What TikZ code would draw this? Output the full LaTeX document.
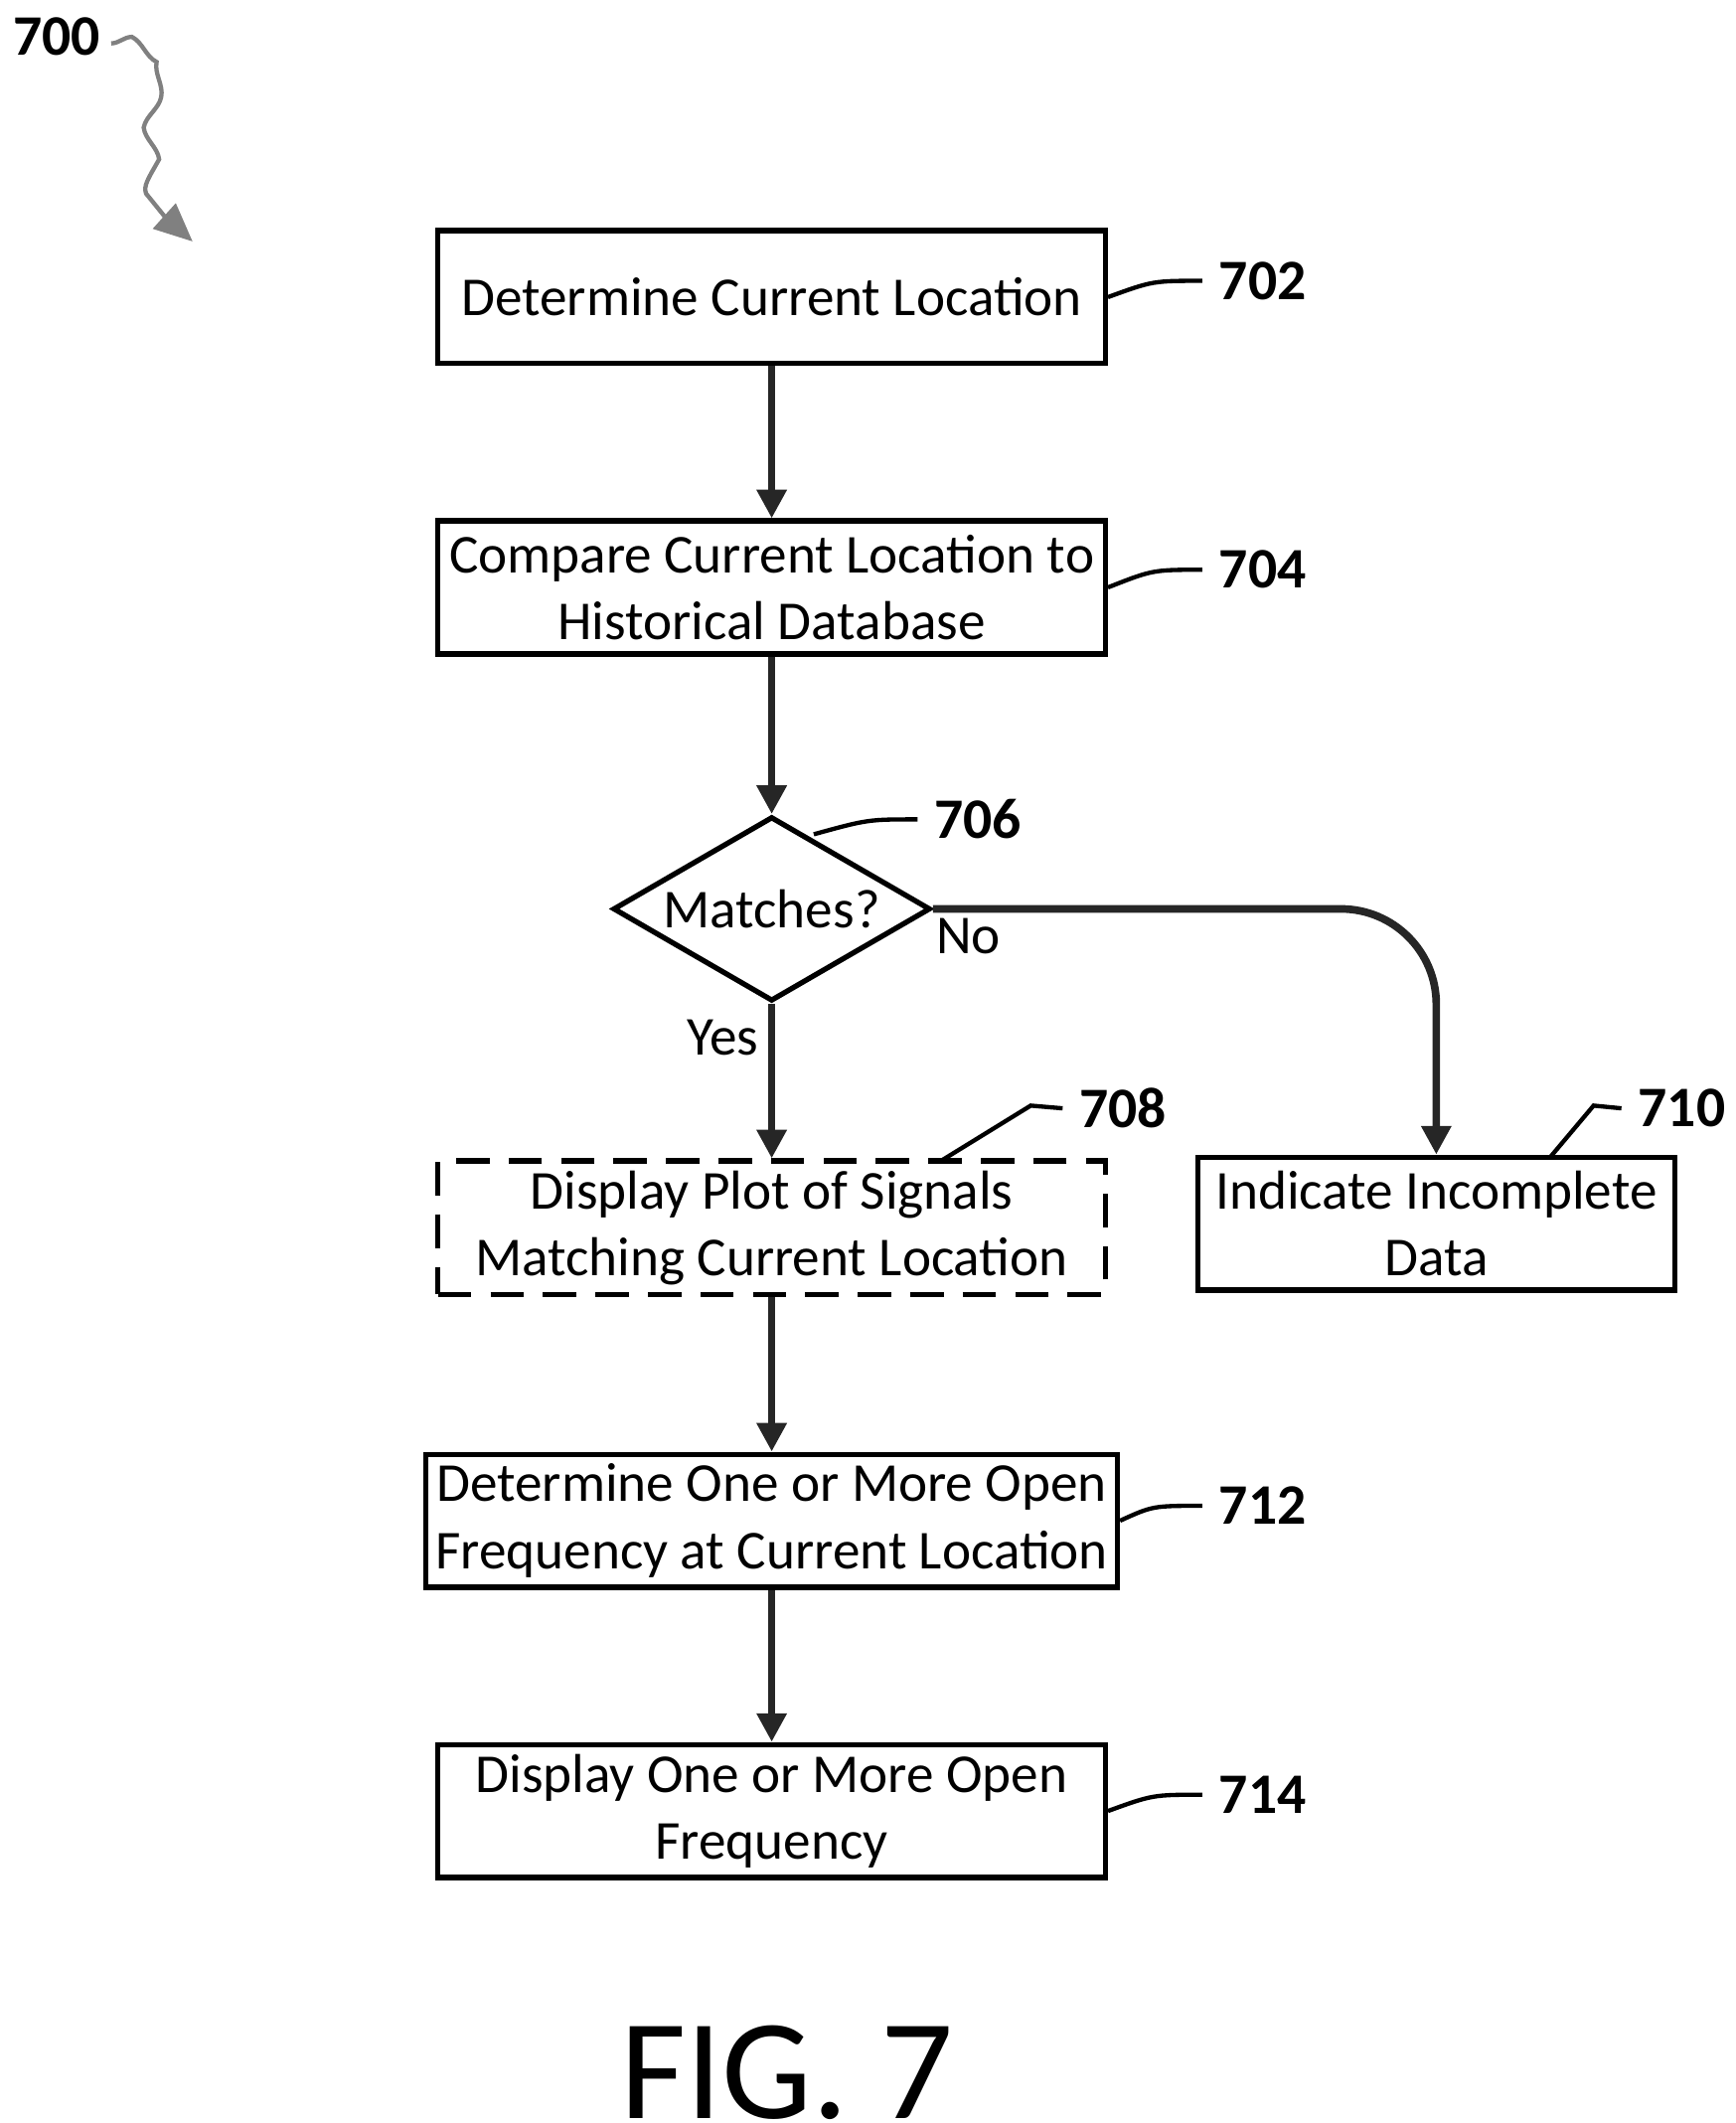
\documentclass[tikz,border=0pt]{standalone}
\usepackage{fontspec}
\setmainfont{Carlito}
\usetikzlibrary{shapes.geometric,arrows.meta,decorations.pathmorphing}
\newcommand{\boxW}{492}
\newcommand{\boxH}{98}
\tikzset{
	stepbox/.style={draw, line width=1.1pt, minimum width=\boxW*0.01cm, minimum height=\boxH*0.01cm, align=center, font=\fontsize{11.5}{14}\selectfont, inner sep=2pt},
	flow/.style={-{Triangle[length=6pt,width=6pt]}, line width=1.6pt, draw=black!85},
	refnum/.style={font=\bfseries\fontsize{12}{14}\selectfont},
	lead/.style={line width=0.9pt}
}
\begin{document}
\begin{tikzpicture}[x=0.01cm, y=-0.01cm]
	\useasboundingbox (0,0) rectangle (1280,1565);

	% boxes
	\node [stepbox] (s702) at (569,219) {Determine Current Location};
	\node [stepbox] (s704) at (569,433) {Compare Current Location to\\Historical Database};
	\node [draw, line width=1.1pt, diamond, aspect=1.72, minimum width=234*0.01cm, minimum height=136*0.01cm, inner sep=0pt, font=\fontsize{11.5}{14}\selectfont] (s706) at (569,670) {Matches?};
	\node [stepbox, dashed, dash pattern=on 7pt off 4pt] (s708) at (569,905) {Display Plot of Signals\\Matching Current Location};
	\node [stepbox, minimum width=352*0.01cm] (s710) at (1059,902) {Indicate Incomplete\\Data};
	\node [stepbox] (s712) at (569,1121) {Determine One or More Open\\Frequency at Current Location};
	\node [stepbox] (s714) at (569,1335) {Display One or More Open\\Frequency};

	% arrows
	\draw [flow] (s702) -- (s704);
	\draw [flow] (s704) -- (s706);
	\draw [flow] (s706) -- (s708);
	\draw [flow, rounded corners=20pt] (s706.east) -- (1059,670) -- (s710.north);
	\draw [flow] (s708) -- (s712);
	\draw [flow] (s712) -- (s714);
	\node [font=\fontsize{11.5}{14}\selectfont] (no) at (714,690) {No};
	\node [font=\fontsize{11.5}{14}\selectfont] (yes) at (533,765) {Yes};

	% reference numbers
	\node [refnum] (n702) at (931,207) {702};
	\node [refnum] (n704) at (931,420) {704};
	\node [refnum] (n706) at (721,604) {706};
	\node [refnum] (n708) at (828,817) {708};
	\node [refnum] (n710) at (1240,817) {710};
	\node [refnum] (n712) at (931,1110) {712};
	\node [refnum] (n714) at (931,1323) {714};
	\node [refnum] (n700) at (42,27) {700};
	\draw [lead] (s702.east) .. controls (850,207) .. (n702.west);
	\draw [lead] (s704.east) .. controls (850,420) .. (n704.west);
	\draw [lead] (600,615) .. controls (640,604) .. (n706.west);
	\draw [lead] (695,855) -- (760,815) -- (n708.west);
	\draw [lead] (1143,853) -- (1175,815) -- (n710.west);
	\draw [lead] (s712.east) .. controls (850,1110) .. (n712.west);
	\draw [lead] (s714.east) .. controls (850,1323) .. (n714.west);
	\coordinate (tip700) at (142,178);
	\draw [lead, gray, -{Triangle[length=8pt,width=7pt]}, decorate, decoration={snake, amplitude=1.2pt, segment length=14pt, post length=8pt}]
		(82,32) .. controls (130,30) and (80,80) .. (100,120) .. controls (110,150) .. (tip700);

	% caption
	\node [font=\fontsize{30}{34}\selectfont] (fig) at (580,1528) {FIG. 7};
\end{tikzpicture}
\end{document}
